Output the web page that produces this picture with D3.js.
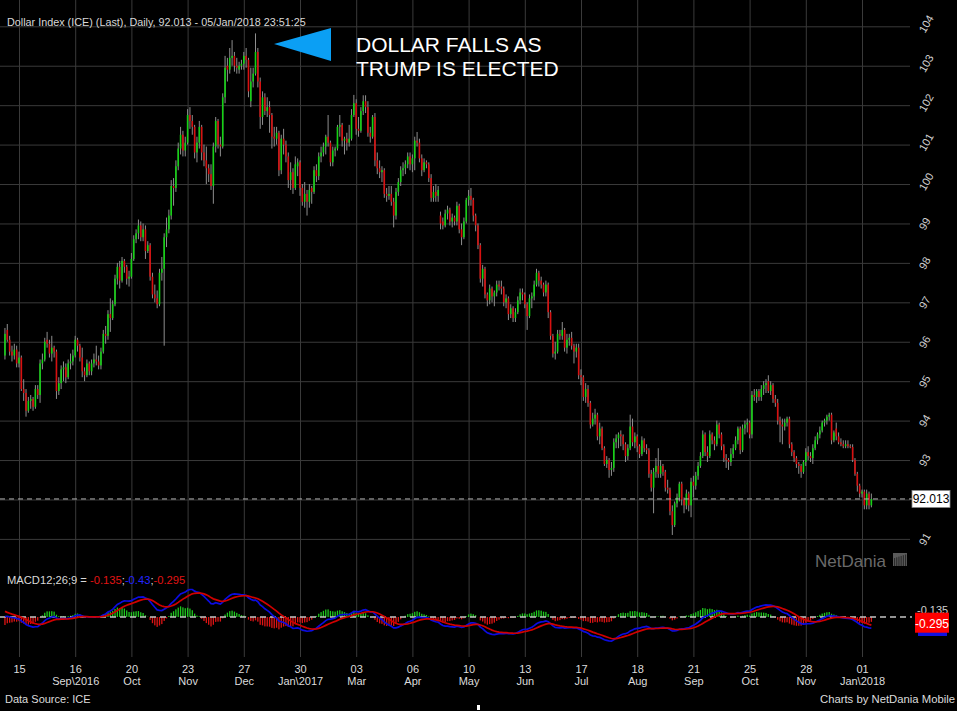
<!DOCTYPE html>
<html><head><meta charset="utf-8">
<script src="https://cdn.jsdelivr.net/npm/d3@7"></script>
<style>
html,body{margin:0;padding:0;background:#000;overflow:hidden}
text{font-family:"Liberation Sans",Arial,Helvetica,sans-serif}
</style></head><body>
<script>
// ---------------- DATA ----------------
// Daily bars, one per weekday, first bar = Fri 05/Aug/2016, last = Fri 05/Jan/2018
const firstDate = "2016-08-05";
const opens = [
95.65,96.30,96.05,95.75,95.65,95.80,95.45,95.60,94.80,94.70,
94.25,94.50,94.55,94.35,94.80,94.65,95.45,95.55,96.05,95.95,
95.70,95.85,95.75,94.75,94.95,95.30,95.35,95.10,95.45,95.50,
95.65,96.05,95.90,95.60,95.25,95.15,95.45,95.25,95.45,95.55,
95.50,95.40,95.75,96.20,96.15,96.70,96.60,96.95,97.60,97.90,
97.55,98.05,97.90,97.60,97.65,98.10,98.60,98.75,98.95,98.65,
98.85,98.30,98.45,97.65,97.20,97.10,96.95,97.75,97.85,98.65,
98.85,99.20,99.95,99.90,100.45,100.90,101.25,100.85,101.05,101.75,
101.60,101.45,100.80,101.05,101.45,100.80,100.60,100.40,100.25,99.95,
100.95,101.60,101.00,100.95,102.20,103.00,102.90,103.20,103.25,103.00,
102.90,103.00,103.05,103.25,103.15,102.10,102.60,102.80,103.35,102.60,
101.70,102.20,101.85,101.95,101.75,101.20,101.15,101.30,100.35,101.15,
101.00,100.70,100.10,100.30,99.90,100.45,100.55,99.90,99.55,99.75,
99.55,99.90,99.80,100.35,100.20,100.70,100.80,100.95,101.20,101.05,
100.55,100.85,100.90,101.45,101.50,101.10,101.15,101.05,101.15,101.75,
102.05,101.40,101.35,101.85,102.10,101.95,101.30,101.20,101.70,100.60,
100.40,100.30,100.35,99.75,99.70,99.75,99.55,99.20,99.80,100.05,
100.35,100.40,100.50,100.70,100.50,100.65,101.10,101.05,100.65,100.35,
100.55,100.50,100.15,99.65,99.80,99.70,99.20,99.05,98.95,99.25,
99.35,99.05,99.15,99.05,99.45,98.85,98.65,99.05,99.60,99.70,
99.60,99.20,98.95,98.45,97.60,97.85,97.20,97.05,97.35,97.15,
97.25,97.45,97.40,97.35,97.00,97.10,96.70,96.85,96.60,96.75,
97.05,97.25,97.20,96.95,96.65,97.10,97.15,97.45,97.75,97.55,
97.45,97.25,97.45,96.75,96.15,95.70,95.75,96.20,96.15,96.30,
95.85,96.05,96.10,95.90,95.75,95.85,95.15,95.10,94.60,94.80,
94.45,93.90,94.05,94.15,93.60,93.80,93.30,92.90,93.00,92.75,
92.80,93.45,93.55,93.65,93.60,93.40,93.10,93.30,93.85,93.45,
93.60,93.35,93.15,93.50,93.30,93.25,92.65,92.30,92.70,92.85,
92.65,92.85,92.70,92.30,92.25,91.70,91.35,91.90,92.05,92.40,
92.00,91.85,92.15,91.85,92.45,92.35,92.60,92.85,93.10,93.65,
93.20,93.10,93.65,93.50,93.40,93.90,93.65,93.35,93.05,93.00,
92.95,93.15,93.30,93.50,93.80,93.25,93.80,93.90,93.95,93.65,
94.65,94.60,94.75,94.60,94.80,94.90,95.00,94.75,94.90,94.55,
94.45,94.00,93.90,93.85,93.95,94.05,93.40,93.20,93.05,92.90,
92.85,92.70,92.95,93.20,93.10,93.05,93.30,93.50,93.65,93.75,
93.95,94.00,94.10,94.15,93.50,93.80,93.60,93.45,93.40,93.35,
93.40,93.35,93.33,93.00,92.65,92.35,92.15,92.20,91.85,92.15,
91.85];
const highs = [
96.35,96.45,96.15,95.90,95.95,95.90,95.75,95.65,95.05,94.80,
94.60,94.65,94.60,94.90,94.90,95.55,95.70,96.10,96.25,96.05,
96.15,95.90,95.80,95.10,95.40,95.50,95.45,95.55,95.70,95.80,
96.15,96.10,95.95,95.85,95.35,95.55,95.50,95.55,95.70,95.90,
95.65,95.85,96.30,96.40,96.80,97.10,97.05,97.70,98.00,98.05,
98.15,98.10,97.95,97.80,98.25,98.70,98.85,99.10,99.05,99.00,
98.95,98.55,98.50,97.75,97.45,97.30,97.85,98.15,98.75,99.15,
99.35,100.10,100.15,100.60,101.05,101.45,101.35,101.20,101.90,101.95,
101.75,101.50,101.20,101.60,101.50,101.00,100.95,100.50,100.50,101.05,
101.70,101.65,101.20,102.30,103.25,103.20,103.45,103.65,103.35,103.20,
103.10,103.15,103.35,103.45,103.20,102.95,102.95,103.82,103.45,102.70,
102.35,102.30,102.20,102.10,101.80,101.45,101.45,101.35,101.25,101.40,
101.10,100.80,100.55,100.40,100.70,100.65,100.60,100.00,100.05,99.85,
100.00,99.95,100.45,100.50,100.80,100.95,101.05,101.25,101.75,101.10,
100.95,100.95,101.50,101.75,101.55,101.20,101.30,101.50,101.90,102.26,
102.15,101.70,101.95,102.25,102.25,102.10,101.45,101.75,101.80,100.80,
100.60,100.45,100.40,99.90,99.95,99.95,99.65,99.90,100.15,100.45,
100.55,100.60,100.80,100.80,100.75,101.20,101.32,101.15,100.75,100.65,
100.60,100.55,100.25,99.95,100.00,99.95,99.30,99.15,99.35,99.45,
99.40,99.25,99.20,99.55,99.50,99.00,99.15,99.65,99.85,99.90,
99.65,99.25,99.00,98.50,97.95,97.90,97.25,97.45,97.40,97.30,
97.55,97.55,97.55,97.40,97.20,97.15,96.95,96.90,96.85,97.15,
97.35,97.35,97.25,97.00,97.20,97.25,97.55,97.85,97.80,97.65,
97.50,97.55,97.50,96.80,96.20,96.00,96.30,96.30,96.50,96.35,
96.20,96.20,96.25,95.95,95.95,95.95,95.30,95.15,94.95,94.90,
94.50,94.20,94.30,94.20,93.95,93.85,93.35,93.10,93.05,92.95,
93.55,93.65,93.70,93.75,93.65,93.45,93.40,94.15,94.05,93.70,
93.65,93.40,93.60,93.55,93.40,93.30,92.75,92.80,93.05,93.30,
93.00,92.90,92.75,92.50,92.30,91.85,91.95,92.15,92.45,92.45,
92.05,92.25,92.20,92.55,92.60,92.70,92.95,93.20,93.75,93.70,
93.35,93.75,93.70,93.60,94.00,93.95,93.70,93.40,93.15,93.05,
93.30,93.40,93.60,93.85,93.85,93.90,94.00,94.05,94.00,94.75,
94.80,94.80,94.80,94.90,95.00,95.05,95.15,95.00,94.95,94.65,
94.55,94.10,94.05,94.05,94.10,94.10,93.45,93.25,93.10,92.95,
92.90,93.00,93.30,93.35,93.20,93.40,93.60,93.70,93.85,94.00,
94.05,94.15,94.20,94.20,93.75,93.95,93.70,93.55,93.50,93.50,
93.50,93.40,93.40,93.05,92.70,92.40,92.25,92.25,92.25,92.20,
92.15];
const lows = [
95.55,96.00,95.65,95.50,95.55,95.35,95.35,94.75,94.50,94.10,
94.20,94.30,94.25,94.30,94.55,94.45,95.30,95.50,95.85,95.60,
95.50,95.60,94.55,94.65,94.80,95.00,94.95,95.05,95.30,95.40,
95.60,95.75,95.50,95.10,95.00,95.10,95.15,95.15,95.35,95.40,
95.30,95.30,95.70,95.95,96.05,96.25,96.55,96.90,97.45,97.35,
97.50,97.75,97.45,97.40,97.60,98.05,98.50,98.60,98.55,98.55,
98.10,98.25,97.55,97.10,97.00,96.85,96.90,97.55,95.90,98.40,
98.75,99.10,99.45,99.80,100.35,100.75,100.70,100.70,101.00,101.40,
101.25,100.65,100.55,100.90,100.60,100.45,100.00,100.05,99.85,99.50,
100.80,100.90,100.70,100.90,102.05,102.60,102.80,103.00,102.85,102.80,
102.80,102.90,102.90,102.95,102.20,101.95,102.45,102.75,102.45,101.40,
101.50,101.75,101.70,101.30,100.90,100.95,101.00,100.20,100.25,100.75,
100.55,99.90,99.85,99.75,99.85,100.20,99.70,99.45,99.40,99.20,
99.40,99.50,99.75,100.05,100.10,100.55,100.70,100.75,100.95,100.45,
100.45,100.70,100.85,101.20,100.95,100.75,100.85,100.95,101.10,101.70,
101.25,101.20,101.30,101.75,101.80,101.20,101.05,101.15,100.45,100.25,
100.15,100.05,99.65,99.55,99.60,99.45,98.90,99.10,99.70,99.95,
100.20,100.25,100.40,100.35,100.30,100.35,100.95,100.55,100.20,100.30,
100.40,100.05,99.55,99.55,99.55,99.55,98.85,98.85,98.90,99.10,
98.95,98.90,98.95,98.95,98.75,98.45,98.60,99.00,99.45,99.45,
99.05,98.80,98.35,97.50,97.40,97.10,96.90,96.95,97.00,96.90,
97.15,97.30,97.20,96.90,96.85,96.55,96.60,96.50,96.50,96.70,
96.95,97.05,96.85,96.30,96.60,96.85,97.05,97.40,97.40,97.35,
97.15,97.15,96.60,96.05,95.60,95.55,95.70,96.05,96.05,95.75,
95.70,95.90,95.80,95.45,95.60,95.05,94.90,94.50,94.45,94.35,
93.80,93.85,93.90,93.50,93.40,93.25,92.85,92.80,92.55,92.60,
92.70,93.30,93.30,93.35,93.25,92.95,93.00,93.25,93.35,93.30,
93.20,93.05,93.10,93.20,93.15,92.55,92.20,91.65,92.55,92.55,
92.55,92.60,92.20,92.15,91.60,91.10,91.30,91.80,91.95,91.85,
91.65,91.75,91.70,91.55,92.05,92.25,92.50,92.80,93.05,93.10,
92.95,93.05,93.40,93.25,93.35,93.55,93.25,92.95,92.80,92.75,
92.85,93.05,93.25,93.40,93.15,93.20,93.65,93.70,93.55,93.55,
94.50,94.45,94.50,94.50,94.65,94.70,94.70,94.65,94.45,94.35,
93.90,93.45,93.40,93.75,93.85,93.30,93.10,92.95,92.80,92.65,
92.55,92.65,92.85,93.00,92.95,92.90,93.25,93.40,93.55,93.70,
93.85,93.90,94.00,93.40,93.45,93.50,93.40,93.35,93.30,93.30,
93.30,93.30,92.95,92.60,92.20,92.05,92.05,91.75,91.75,91.75,
91.80];
const closes = [
96.20,96.05,95.75,95.65,95.80,95.45,95.60,94.80,94.70,94.25,
94.50,94.55,94.35,94.80,94.65,95.45,95.55,96.00,95.95,95.70,
95.85,95.75,94.75,94.95,95.30,95.35,95.10,95.45,95.50,95.65,
96.05,95.90,95.60,95.25,95.15,95.45,95.25,95.45,95.55,95.50,
95.40,95.75,96.20,96.15,96.70,96.60,96.95,97.60,97.90,97.55,
98.05,97.90,97.60,97.65,98.10,98.60,98.75,98.95,98.65,98.85,
98.30,98.45,97.65,97.20,97.10,96.95,97.75,97.85,98.65,98.85,
99.20,99.95,99.90,100.45,100.90,101.25,100.85,101.05,101.75,101.60,
101.45,100.80,101.05,101.45,100.80,100.60,100.40,100.25,99.95,100.95,
101.60,101.00,100.95,102.20,102.95,102.90,103.20,103.25,103.00,102.95,
103.00,103.05,103.25,103.15,102.35,102.60,102.80,103.35,102.60,101.70,
102.20,101.85,101.95,101.75,101.20,101.15,101.30,100.35,101.15,101.00,
100.70,100.10,100.30,99.90,100.50,100.55,99.90,99.55,99.75,99.55,
99.85,99.80,100.35,100.20,100.70,100.80,100.95,101.20,101.05,100.55,
100.85,100.90,101.45,101.50,101.10,101.15,101.05,101.15,101.75,102.05,
101.40,101.35,101.85,102.10,101.95,101.30,101.20,101.70,100.60,100.40,
100.30,100.35,99.75,99.70,99.75,99.55,99.20,99.80,100.05,100.35,
100.40,100.50,100.70,100.50,100.65,101.10,101.05,100.65,100.35,100.55,
100.50,100.15,99.65,99.80,99.70,99.85,99.00,98.95,99.25,99.35,
99.05,99.15,99.05,99.45,98.85,98.65,99.05,99.60,99.70,99.60,
99.20,98.95,98.45,97.60,97.85,97.20,97.05,97.35,97.15,97.25,
97.45,97.40,97.35,97.00,97.10,96.70,96.85,96.60,96.75,97.05,
97.25,97.20,96.95,96.65,97.10,97.15,97.45,97.75,97.55,97.45,
97.25,97.45,96.75,96.15,95.70,95.75,96.20,96.15,96.30,95.85,
96.05,96.10,95.90,95.75,95.85,95.15,95.10,94.60,94.80,94.45,
93.90,94.05,94.15,93.60,93.80,93.30,92.90,93.00,92.75,92.80,
93.45,93.55,93.65,93.60,93.40,93.10,93.30,93.85,93.45,93.60,
93.35,93.15,93.50,93.30,93.25,92.65,92.30,92.70,92.85,92.65,
92.85,92.70,92.30,92.25,91.70,91.35,91.90,92.05,92.40,92.00,
91.85,92.15,91.85,92.45,92.35,92.60,92.85,93.10,93.65,93.20,
93.10,93.65,93.50,93.40,93.90,93.65,93.35,93.05,93.00,92.95,
93.15,93.30,93.50,93.80,93.25,93.80,93.90,93.95,93.65,94.65,
94.60,94.75,94.60,94.80,94.90,94.95,94.75,94.90,94.55,94.45,
94.00,93.90,93.85,93.95,94.05,93.40,93.20,93.05,92.90,92.85,
92.70,92.95,93.20,93.10,93.05,93.30,93.50,93.65,93.75,93.95,
94.00,94.10,94.15,93.50,93.70,93.60,93.45,93.40,93.35,93.40,
93.35,93.33,93.00,92.65,92.35,92.15,92.20,91.85,92.15,91.85,
92.013];

// x-axis ticks (bar index of each labelled date) and their labels
const tickIdx    = [6,30,54,78,102,126,150,174,198,222,246,270,294,318,342,366];
const dayLabels  = ["15","16","20","23","27","30","03","06","10","13","17","18","21","25","28","01"];
const monthLabels= ["","Sep\\2016","Oct","Nov","Dec","Jan\\2017","Mar","Apr","May","Jun","Jul","Aug","Sep","Oct","Nov","Jan\\2018"];
// right price axis ticks
const priceTicks = [91,92,93,94,95,96,97,98,99,100,101,102,103,104];
// MACD(12,26,9) state at the left edge of the picture
const macdSeed = {ema12: 95.95, ema26: 95.95, signal: 0.27};
const macdShown = {hist: "-0.135", macd: "-0.43", signal: "-0.295"};

// ---------------- CHART ----------------
const W = 957, H = 711;
const FONT = '"Liberation Sans",Arial,sans-serif';
const svg = d3.select("body").append("svg").attr("width", W).attr("height", H);
svg.append("rect").attr("width", W).attr("height", H).attr("fill", "#000");

const n = Math.min(opens.length, highs.length, lows.length, closes.length);
const idx = d3.range(n);

const x = d3.scaleLinear().domain([6, 366]).range([19, 862]);
const y = d3.scaleLinear().domain([91, 104]).range([538.9, 26.3]);
const zeroY = 617;
const yM = d3.scaleLinear().domain([-1, 1]).range([zeroY + 25.6, zeroY - 25.6]);
const yH = d3.scaleLinear().domain([-1, 1]).range([zeroY + 40, zeroY - 40]);

const gridCol = "#3a3a3a";

// vertical grid lines
svg.append("g").attr("transform", "translate(0,657)")
  .call(d3.axisBottom(x).tickValues(tickIdx).tickSize(-657).tickFormat(""))
  .call(g => g.select(".domain").remove())
  .call(g => g.selectAll("line").attr("stroke", gridCol));

// horizontal grid lines
svg.append("g")
  .call(d3.axisLeft(y).tickValues(priceTicks).tickSize(-910).tickFormat(""))
  .call(g => g.select(".domain").remove())
  .call(g => g.selectAll("line").attr("stroke", gridCol));

// right price labels (rotated)
svg.append("g").attr("transform", "translate(912,0)")
  .call(d3.axisRight(y).tickValues(priceTicks.filter(v => v !== 92)).tickSize(0).tickFormat(d3.format("d")))
  .call(g => g.select(".domain").remove())
  .call(g => g.selectAll("text")
     .attr("x", 0).attr("dy", null).attr("text-anchor", "start")
     .attr("transform", "translate(13,7) rotate(-60)")
     .attr("fill", "#cfcfcf").attr("font-size", 11)
     .attr("font-family", FONT));

// candles
const cg = svg.append("g");
cg.selectAll("line.wick").data(idx).join("line")
  .attr("x1", i => x(i)).attr("x2", i => x(i))
  .attr("y1", i => y(highs[i])).attr("y2", i => y(lows[i]))
  .attr("stroke", "#8e8e8e").attr("stroke-width", 1);
cg.selectAll("rect.body").data(idx).join("rect")
  .attr("x", i => x(i) - 0.8).attr("width", 1.6)
  .attr("y", i => y(Math.max(opens[i], closes[i])))
  .attr("height", i => Math.max(1, Math.abs(y(opens[i]) - y(closes[i]))))
  .attr("fill", i => closes[i] > opens[i] ? "#14d214" : (closes[i] < opens[i] ? "#d81010" : "#9a9a9a"));

// last price dashed line + label
const last = closes[n - 1];
svg.append("line").attr("x1", 0).attr("x2", 912).attr("y1", y(last)).attr("y2", y(last))
  .attr("stroke", "#b4b4b4").attr("stroke-width", 1).attr("stroke-dasharray", "5,4");
svg.append("rect").attr("x", 912).attr("y", y(last) - 8.5).attr("width", 38).attr("height", 17)
  .attr("fill", "#fff").attr("stroke", "#888").attr("stroke-width", 0.8);
svg.append("text").attr("x", 931).attr("y", y(last) + 4.3).attr("text-anchor", "middle")
  .attr("font-size", 12).attr("fill", "#000").text(last.toFixed(3));

// title
svg.append("text").attr("x", 7).attr("y", 25.5).attr("font-size", 10.8).attr("fill", "#d8d8d8")
  .text("Dollar Index (ICE) (Last), Daily, 92.013 - 05/Jan/2018 23:51:25");

// annotation
svg.append("path").attr("d", "M274,44L331,28L331,61Z").attr("fill", "#0b9ff4");
svg.append("text").attr("x", 356).attr("y", 52).attr("font-size", 21).attr("fill", "#fff").text("DOLLAR FALLS AS");
svg.append("text").attr("x", 356).attr("y", 76).attr("font-size", 21).attr("fill", "#fff").text("TRUMP IS ELECTED");

// watermark
svg.append("text").attr("x", 815).attr("y", 566.5).attr("font-size", 17).attr("fill", "#6a6a6a").text("NetDania");
const logo = svg.append("g").attr("transform", "translate(893,553)");
logo.append("rect").attr("width", 14).attr("height", 13).attr("fill", "#5a5a5a");
d3.range(6).forEach(k => logo.append("rect").attr("x", 1 + k * 2.2).attr("y", 5 - k * 0.7).attr("width", 1.1)
  .attr("height", 8 + k * 0.7).attr("fill", "#2a2a2a"));

// ---------------- MACD ----------------
const k12 = 2 / 13, k26 = 2 / 27, k9 = 2 / 10;
let e12 = macdSeed.ema12, e26 = macdSeed.ema26, sig = macdSeed.signal;
const macd = [], signal = [], hist = [];
closes.slice(0, n).forEach(c => {
  e12 += k12 * (c - e12); e26 += k26 * (c - e26);
  const m = e12 - e26; sig += k9 * (m - sig);
  macd.push(m); signal.push(sig); hist.push(m - sig);
});

svg.append("g").selectAll("rect").data(idx).join("rect")
  .attr("x", i => x(i) - 0.65).attr("width", 1.3)
  .attr("y", i => yH(Math.max(0, hist[i])))
  .attr("height", i => Math.abs(yH(hist[i]) - yH(0)))
  .attr("fill", i => hist[i] >= 0 ? "#1ec81e" : "#dd1414");

svg.append("line").attr("x1", 0).attr("x2", 912).attr("y1", zeroY).attr("y2", zeroY)
  .attr("stroke", "#c4c4c4").attr("stroke-width", 1.5).attr("stroke-dasharray", "6,4");

const lineM = d3.line().x(i => x(i)).y(i => yM(macd[i]));
const lineS = d3.line().x(i => x(i)).y(i => yM(signal[i]));
svg.append("path").attr("d", lineM(idx)).attr("fill", "none").attr("stroke", "#0c0ce0").attr("stroke-width", 1.7);
svg.append("path").attr("d", lineS(idx)).attr("fill", "none").attr("stroke", "#d00000").attr("stroke-width", 1.7);

// MACD header
const mt = svg.append("text").attr("x", 7).attr("y", 583.5).attr("font-size", 11.2).attr("fill", "#d8d8d8");
mt.append("tspan").text("MACD12;26;9 = ");
mt.append("tspan").attr("fill", "#e01414").text(macdShown.hist);
mt.append("tspan").text(";");
mt.append("tspan").attr("fill", "#2424ff").text(macdShown.macd);
mt.append("tspan").text(";");
mt.append("tspan").attr("fill", "#e01414").text(macdShown.signal);

// MACD right labels (stacked, mostly hidden as in the original)
svg.append("text").attr("x", 917).attr("y", 614.3).attr("font-size", 11).attr("fill", "#d0d0d0").text(macdShown.hist);
svg.append("rect").attr("x", 918).attr("y", 615).attr("width", 29).attr("height", 21).attr("fill", "#1010e0");
svg.append("rect").attr("x", 915).attr("y", 612.7).attr("width", 34).attr("height", 20).attr("fill", "#ff0000");
svg.append("text").attr("x", 932).attr("y", 628).attr("text-anchor", "middle").attr("font-size", 12)
  .attr("fill", "#fff").text(macdShown.signal);

// ---------------- X AXIS LABELS ----------------
svg.append("g").attr("transform", "translate(0,664.7)")
  .call(d3.axisBottom(x).tickValues(tickIdx).tickSize(0).tickPadding(0).tickFormat((d, k) => dayLabels[k]))
  .call(g => g.select(".domain").remove())
  .call(g => g.selectAll("text").attr("fill", "#dcdcdc").attr("font-size", 11)
     .attr("font-family", FONT));
svg.append("g").attr("transform", "translate(0,677.2)")
  .call(d3.axisBottom(x).tickValues(tickIdx).tickSize(0).tickPadding(0).tickFormat((d, k) => monthLabels[k]))
  .call(g => g.select(".domain").remove())
  .call(g => g.selectAll("text").attr("fill", "#dcdcdc").attr("font-size", 11)
     .attr("font-family", FONT));

// footer
svg.append("text").attr("x", 5).attr("y", 703).attr("font-size", 11).attr("fill", "#dcdcdc").text("Data Source: ICE");
svg.append("text").attr("x", 955).attr("y", 703).attr("text-anchor", "end").attr("font-size", 11.3)
  .attr("fill", "#dcdcdc").text("Charts by NetDania Mobile");
svg.append("rect").attr("x", 477).attr("y", 705).attr("width", 3).attr("height", 5).attr("fill", "#fff");
</script>
</body></html>
